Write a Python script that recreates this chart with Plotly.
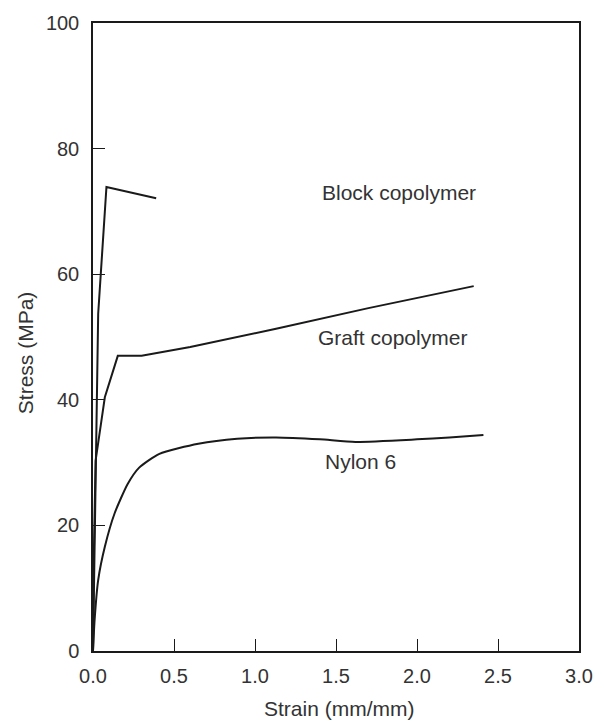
import plotly.graph_objects as go

# Block copolymer
block_x = [0.0, 0.008, 0.015, 0.032, 0.083, 0.39]
block_y = [0.0, 15.0, 30.0, 53.7, 73.9, 72.1]

# Graft copolymer
graft_x = [0.0, 0.005, 0.016, 0.073, 0.153, 0.30, 0.6, 1.13, 1.7, 2.35]
graft_y = [0.0, 15.0, 30.3, 40.4, 47.0, 47.0, 48.4, 51.3, 54.6, 58.1]

# Nylon 6
nylon_x = [0.0, 0.01, 0.032, 0.073, 0.133, 0.214, 0.285, 0.41, 0.65, 0.89, 1.13, 1.4, 1.62, 2.0, 2.2, 2.41]
nylon_y = [0.0, 5.0, 11.3, 16.6, 21.9, 26.6, 29.2, 31.4, 33.0, 33.8, 34.0, 33.7, 33.3, 33.7, 34.0, 34.4]

labels = ["Block copolymer", "Graft copolymer", "Nylon 6"]
label_x = [1.89, 1.85, 1.65]
label_y = [73.0, 50.0, 30.2]

x_ticks = [0.0, 0.5, 1.0, 1.5, 2.0, 2.5, 3.0]
y_ticks = [0, 20, 40, 60, 80, 100]

x_title = "Strain (mm/mm)"
y_title = "Stress (MPa)"

font_family = "Liberation Sans, Arial, sans-serif"
ink = "#1a1a1a"
label_ink = "#333333"

fig = go.Figure()
for xs, ys in [(block_x, block_y), (graft_x, graft_y)]:
    fig.add_trace(go.Scatter(x=xs, y=ys, mode="lines",
                             line=dict(color=ink, width=2), showlegend=False, hoverinfo="skip"))
fig.add_trace(go.Scatter(x=nylon_x, y=nylon_y, mode="lines",
                         line=dict(color=ink, width=2, shape="spline", smoothing=0.6),
                         showlegend=False, hoverinfo="skip"))

for t, lx, ly in zip(labels, label_x, label_y):
    fig.add_annotation(x=lx, y=ly, text=t, showarrow=False,
                       font=dict(family=font_family, size=21, color=label_ink))

# axis titles placed as annotations for precise placement
fig.add_annotation(xref="paper", yref="paper", x=0.508, y=-0.092, text=x_title,
                   showarrow=False, xanchor="center", yanchor="middle",
                   font=dict(family=font_family, size=21, color=label_ink))
fig.add_annotation(xref="paper", yref="paper", x=-0.139, y=0.475, text=y_title,
                   showarrow=False, xanchor="center", yanchor="middle", textangle=-90,
                   font=dict(family=font_family, size=21, color=label_ink))

fig.update_layout(
    width=605, height=721,
    margin=dict(l=93, r=16, t=21, b=70),
    paper_bgcolor="white", plot_bgcolor="white",
    font=dict(family=font_family, size=20, color=label_ink),
)
fig.update_xaxes(
    range=[0, 3.0], tickvals=x_ticks, ticktext=[f"{v:.1f}" for v in x_ticks],
    ticks="inside", ticklen=12, tickwidth=1, tickcolor=ink,
    tickfont=dict(size=20), ticklabelstandoff=6,
    showline=True, linecolor=ink, linewidth=1.5, mirror=True,
    showgrid=False, zeroline=False,
)
fig.update_yaxes(
    range=[0, 100], tickvals=y_ticks, ticktext=[str(v) for v in y_ticks],
    ticks="inside", ticklen=12, tickwidth=1, tickcolor=ink,
    tickfont=dict(size=20), ticklabelstandoff=8,
    showline=True, linecolor=ink, linewidth=1.5, mirror=True,
    showgrid=False, zeroline=False,
)

fig.write_html("out.html")
